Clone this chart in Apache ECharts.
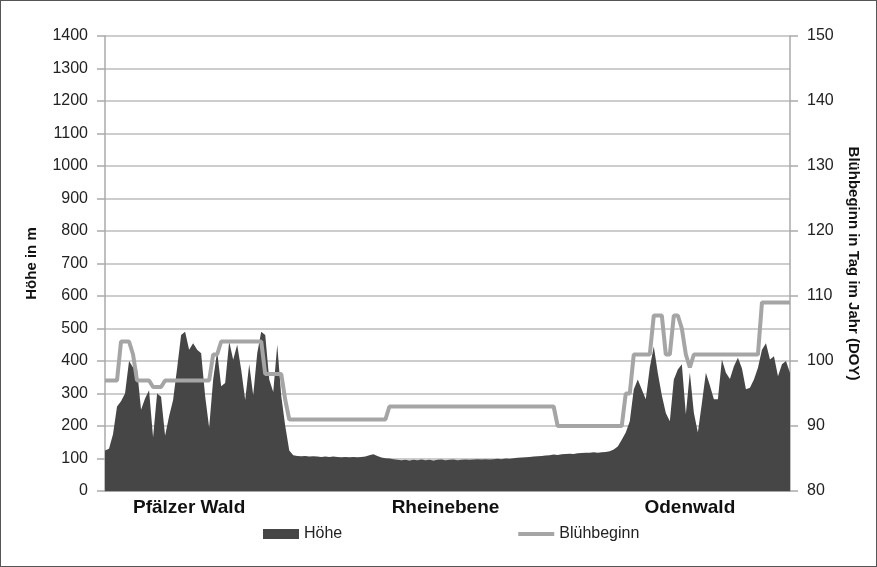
<!DOCTYPE html>
<html>
<head>
<meta charset="utf-8">
<script src="https://cdn.jsdelivr.net/npm/echarts@6/dist/echarts.min.js"></script>
<style>
	html, body { margin: 0; padding: 0; background: #fff; }
	#chart { width: 877px; height: 567px; box-sizing: border-box; border: 1px solid #555; }
</style>
</head>
<body>
<div id="chart"></div>
<script>
// Höhe in m, ein Wert je Profilpunkt (West -> Ost)
var hoehe = [
	125, 130, 175, 260, 276, 300, 400, 380, 375, 250,
	285, 310, 165, 300, 290, 170, 230, 280, 378, 480,
	490, 435, 455, 435, 424, 292, 195, 343, 430, 322,
	332, 460, 404, 450, 373, 280, 390, 295, 424, 490,
	480, 343, 305, 450, 292, 200, 125, 110,
	108, 107, 108, 106, 107, 106, 105, 106, 105, 106,
	105, 104, 105, 104, 105, 104, 105, 106, 110, 113,
	108, 103, 101, 100, 98, 96, 95, 96, 94, 96,
	95, 97, 95, 96, 94, 96, 97, 95, 96, 97,
	95, 96, 97, 96, 97, 98, 97, 98, 97, 98,
	99, 98, 100, 99, 101, 102, 103, 104, 105, 106,
	107, 108, 109, 110, 112, 111, 113, 114, 115, 114,
	116, 117, 118, 118, 119, 118, 119,
	120, 122, 128, 137, 158, 180, 215, 312, 343, 312,
	282, 380, 445, 363, 295, 240, 215, 343, 374, 390,
	236, 365, 241, 180, 270, 364, 325, 282, 282, 405,
	364, 345, 384, 410, 378, 313, 318, 343, 379, 435,
	455, 405, 415, 353, 390, 400, 363
];

// Blühbeginn in Tag im Jahr (DOY)
var bluehbeginn = [
	97, 97, 97, 97, 103, 103, 103, 101, 97, 97,
	97, 97, 96, 96, 96, 97, 97, 97, 97, 97,
	97, 97, 97, 97, 97, 97, 97, 101, 101, 103,
	103, 103, 103, 103, 103, 103, 103, 103, 103, 103,
	98, 98, 98, 98, 98, 94, 91, 91,
	91, 91, 91, 91, 91, 91, 91, 91, 91, 91,
	91, 91, 91, 91, 91, 91, 91, 91, 91, 91,
	91, 91, 91, 93, 93, 93, 93, 93, 93, 93,
	93, 93, 93, 93, 93, 93, 93, 93, 93, 93,
	93, 93, 93, 93, 93, 93, 93, 93, 93, 93,
	93, 93, 93, 93, 93, 93, 93, 93, 93, 93,
	93, 93, 93, 93, 93, 90, 90, 90, 90, 90,
	90, 90, 90, 90, 90, 90, 90,
	90, 90, 90, 90, 90, 95, 95, 101, 101, 101,
	101, 101, 107, 107, 107, 101, 101, 107, 107, 105,
	101, 99, 101, 101, 101, 101, 101, 101, 101, 101,
	101, 101, 101, 101, 101, 101, 101, 101, 101, 109,
	109, 109, 109, 109, 109, 109, 109
];

// Kategorien: Profilpunkte, Beschriftung nur an drei Stellen
var punkte = hoehe.map(function(v, i) { return i; });
var regionen = { 21: 'Pfälzer Wald', 85: 'Rheinebene', 146: 'Odenwald' };

var fontName = "'Liberation Sans Narrow', 'Liberation Sans', sans-serif";

var chart = echarts.init(document.getElementById('chart'));

option = {
	animation: false,
	textStyle: { fontFamily: fontName },
	grid: { left: 104, right: 86, top: 35, bottom: 75 },
	legend: {
		left: 257,
		top: 520,
		itemGap: 176,
		itemWidth: 36,
		itemHeight: 10,
		textStyle: { fontSize: 16, color: '#222', fontFamily: fontName },
		data: [
			{ name: 'Höhe', icon: 'rect' },
			{ name: 'Blühbeginn', icon: 'path://M0 0H36V4H0Z' }
		]
	},
	xAxis: [ {
		type: 'category',
		data: punkte,
		boundaryGap: false,
		axisLine: { lineStyle: { color: '#999', width: 1.5 } },
		axisTick: { show: false },
		axisLabel: {
			interval: function(index) { return regionen[index] !== undefined; },
			formatter: function(v) { return regionen[v] || ''; },
			margin: 7,
			fontSize: 19,
			fontWeight: 'bold',
			color: '#111',
			fontFamily: fontName
		}
	} ],
	yAxis: [ {
		type: 'value',
		min: 0,
		max: 1400,
		interval: 100,
		name: 'Höhe in m',
		nameLocation: 'middle',
		nameGap: 66,
		nameRotate: 90,
		nameTextStyle: { fontSize: 15, fontWeight: 'bold', color: '#111', fontFamily: fontName },
		axisLine: { show: true, lineStyle: { color: '#aaa', width: 1.5 } },
		axisTick: { show: true, length: 8, lineStyle: { color: '#aaa', width: 1.5 } },
		axisLabel: {
			margin: 17, fontSize: 16, color: '#222', fontFamily: fontName,
			formatter: function(v) { return String(v); }
		},
		splitLine: { lineStyle: { color: '#bdbdbd', width: 1.5 } }
	}, {
		type: 'value',
		min: 80,
		max: 150,
		interval: 10,
		position: 'right',
		name: 'Blühbeginn in Tag im Jahr (DOY)',
		nameLocation: 'middle',
		nameGap: 56,
		nameRotate: -90,
		nameTextStyle: { fontSize: 15, fontWeight: 'bold', color: '#111', fontFamily: fontName },
		axisLine: { show: true, lineStyle: { color: '#aaa', width: 1.5 } },
		axisTick: { show: true, length: 8, lineStyle: { color: '#aaa', width: 1.5 } },
		axisLabel: { margin: 17, fontSize: 16, color: '#222', fontFamily: fontName },
		splitLine: { show: false }
	} ],
	series: [ {
		name: 'Höhe',
		type: 'line',
		data: hoehe,
		symbol: 'none',
		color: '#464646',
		lineStyle: { width: 0 },
		areaStyle: { color: '#464646', opacity: 1 },
		z: 2
	}, {
		name: 'Blühbeginn',
		type: 'line',
		yAxisIndex: 1,
		data: bluehbeginn,
		symbol: 'none',
		color: '#a5a5a5',
		lineStyle: { width: 4, color: '#a5a5a5' },
		z: 3
	} ]
};
chart.setOption(option);
</script>
</body>
</html>
